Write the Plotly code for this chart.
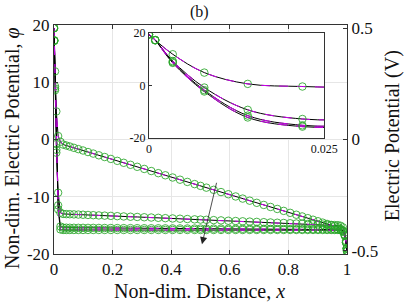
import plotly.graph_objects as go

# ---------------- data ----------------
x_mesh = [0, 0.0009, 0.0034, 0.0079, 0.0141, 0.0219, 0.031, 0.042, 0.054, 0.068,
          0.083, 0.099, 0.116, 0.134, 0.153, 0.173, 0.194, 0.216, 0.238, 0.261,
          0.284, 0.308, 0.332, 0.356, 0.380, 0.405, 0.430, 0.455, 0.480, 0.500,
          0.520, 0.545, 0.570, 0.595, 0.620, 0.644, 0.668, 0.692, 0.716, 0.739,
          0.762, 0.784, 0.806, 0.827, 0.847, 0.866, 0.884, 0.901, 0.917, 0.932,
          0.946, 0.958, 0.969, 0.9781, 0.9859, 0.9921, 0.9966, 0.9991, 1]

phi_1 = [19.46, 17.3, 11.9, 4.9, 0.6, -0.4, -0.88, -1.05, -1.23, -1.45,
         -1.68, -1.92, -2.19, -2.46, -2.76, -3.06, -3.39, -3.73, -4.07, -4.42,
         -4.77, -5.14, -5.51, -5.88, -6.25, -6.64, -7.02, -7.41, -7.79, -8.10,
         -8.41, -8.79, -9.18, -9.56, -9.95, -10.32, -10.69, -11.06, -11.43, -11.78,
         -12.13, -12.47, -12.81, -13.14, -13.44, -13.74, -14.01, -14.28, -14.52, -14.75,
         -14.97, -15.15, -15.32, -15.6, -15.9, -16.8, -18.0, -19.1, -19.46]

phi_2 = [19.46, 17.3, 9.3, -0.8, -9.3, -12.8, -13.0, -13.03, -13.05, -13.08,
         -13.11, -13.14, -13.18, -13.22, -13.26, -13.30, -13.34, -13.39, -13.44, -13.49,
         -13.53, -13.58, -13.63, -13.68, -13.74, -13.79, -13.84, -13.89, -13.95, -13.99,
         -14.03, -14.08, -14.13, -14.19, -14.24, -14.29, -14.34, -14.39, -14.44, -14.49,
         -14.54, -14.58, -14.63, -14.67, -14.72, -14.76, -14.79, -14.83, -14.86, -14.89,
         -14.92, -14.95, -14.97, -15.07, -15.35, -16.2, -17.7, -19.0, -19.46]

phi_3 = [19.46, 17.3, 8.9, -1.8, -11.5, -15.2, -15.40, -15.41, -15.42, -15.42,
         -15.43, -15.43, -15.44, -15.44, -15.45, -15.46, -15.46, -15.47, -15.48, -15.48,
         -15.49, -15.50, -15.50, -15.51, -15.52, -15.53, -15.53, -15.54, -15.55, -15.55,
         -15.56, -15.56, -15.57, -15.58, -15.59, -15.59, -15.60, -15.61, -15.61, -15.62,
         -15.63, -15.63, -15.64, -15.65, -15.65, -15.66, -15.66, -15.67, -15.67, -15.68,
         -15.68, -15.69, -15.69, -15.75, -15.95, -16.6, -17.9, -19.0, -19.46]

phi_4 = [19.46, 17.2, 8.6, -2.3, -12.2, -15.7, -15.80, -15.80, -15.80, -15.80,
         -15.80, -15.80, -15.80, -15.80, -15.80, -15.80, -15.80, -15.80, -15.80, -15.80,
         -15.80, -15.80, -15.80, -15.80, -15.80, -15.80, -15.80, -15.80, -15.80, -15.80,
         -15.80, -15.80, -15.80, -15.80, -15.80, -15.80, -15.80, -15.80, -15.80, -15.80,
         -15.80, -15.80, -15.80, -15.80, -15.80, -15.80, -15.80, -15.80, -15.80, -15.80,
         -15.80, -15.80, -15.80, -15.85, -16.05, -16.7, -18.0, -19.05, -19.46]

curves = [phi_1, phi_2, phi_3, phi_4]

x_ticks = [0, 0.2, 0.4, 0.6, 0.8, 1]
x_ticktext = ["0", "0.2", "0.4", "0.6", "0.8", "1"]
y_ticks = [-20, -10, 0, 10, 20]
y_ticktext = ["-20", "-10", "0", "10", "20"]
v_ticks = [-0.5, 0, 0.5]
v_ticktext = ["-0.5", "0", "0.5"]
inset_x_ticks = [0, 0.025]
inset_x_ticktext = ["0", "0.025"]
inset_y_ticks = [-20, 0, 20]
inset_y_ticktext = ["-20", "0", "20"]
thermal_voltage = 0.0257

# ---------------- styles ----------------
BLACK = "#000000"
MAGENTA = "#cc00ee"
GREEN = "rgba(40,165,40,0.85)"
FONT = "Liberation Serif"
TXT = "#111111"

fig = go.Figure()

for axes in [("x", "y"), ("x3", "y3")]:
    shape = "linear" if axes[0] == "x" else "spline"
    for phi in curves:
        fig.add_trace(go.Scatter(x=x_mesh, y=phi, mode="lines", xaxis=axes[0], yaxis=axes[1],
                                 line=dict(color=BLACK, width=1, shape=shape),
                                 showlegend=False, hoverinfo="skip"))
        fig.add_trace(go.Scatter(x=x_mesh, y=phi, mode="lines", xaxis=axes[0], yaxis=axes[1],
                                 line=dict(color=MAGENTA, width=1, dash="dash", shape=shape),
                                 showlegend=False, hoverinfo="skip"))
    for phi in curves:
        fig.add_trace(go.Scatter(x=x_mesh, y=phi, mode="markers", xaxis=axes[0], yaxis=axes[1],
                                 marker=dict(symbol="circle-open", size=7.5, color=GREEN,
                                             line=dict(width=1, color=GREEN)),
                                 cliponaxis=True, showlegend=False, hoverinfo="skip"))

# invisible trace for right axis
fig.add_trace(go.Scatter(x=[0], y=[0], yaxis="y2", mode="markers",
                         marker=dict(opacity=0), showlegend=False, hoverinfo="skip"))

axis_common = dict(showline=True, linecolor="#333333", linewidth=1, ticks="inside",
                   ticklen=4, tickcolor="#333333", zeroline=False, automargin=False,
                   tickfont=dict(family=FONT, size=17, color=TXT))
inset_common = dict(showline=True, mirror=True, linecolor="#333333", linewidth=1,
                    ticks="inside", ticklen=3, tickcolor="#333333", showgrid=False,
                    zeroline=False, automargin=False,
                    tickfont=dict(family=FONT, size=12, color=TXT))

fig.update_layout(
    template="none",
    width=407, height=305,
    margin=dict(l=54, r=60, t=25, b=51),
    paper_bgcolor="white", plot_bgcolor="white",
    font=dict(family=FONT, color=TXT),
    xaxis=dict(range=[0, 1], tickvals=x_ticks, ticktext=x_ticktext, mirror="ticks",
               showgrid=True, gridcolor="#e6e6e6", **axis_common),
    yaxis=dict(range=[-20, 20], tickvals=y_ticks, ticktext=y_ticktext, mirror=True,
               showgrid=True, gridcolor="#e6e6e6", **axis_common),
    yaxis2=dict(range=[-20 * thermal_voltage, 20 * thermal_voltage], overlaying="y", side="right",
                tickvals=v_ticks, ticktext=v_ticktext, showgrid=False, **axis_common),
    xaxis3=dict(domain=[0.324, 0.922], anchor="y3", range=[0, 0.025], tickvals=inset_x_ticks,
                ticktext=inset_x_ticktext, **inset_common),
    yaxis3=dict(domain=[0.507, 0.965], anchor="x3", range=[-20, 20], tickvals=inset_y_ticks,
                ticktext=inset_y_ticktext, **inset_common),
    annotations=[
        dict(text="(b)", x=0.498, y=1.057, xref="paper", yref="paper", xanchor="center",
             yanchor="middle", showarrow=False, font=dict(family=FONT, size=16, color=TXT)),
        dict(text="Non-dim. Distance, <i>x</i>", x=0.498, y=-0.162, xref="paper", yref="paper",
             xanchor="center", yanchor="middle", showarrow=False,
             font=dict(family=FONT, size=20, color=TXT)),
        dict(text="Non-dim. Electric Potential, <i>φ</i>", x=-0.14, y=0.463, xref="paper",
             yref="paper", xanchor="center", yanchor="middle", textangle=-90, showarrow=False,
             font=dict(family=FONT, size=20, color=TXT)),
        dict(text="Electric Potential (V)", x=1.154, y=0.515, xref="paper", yref="paper",
             xanchor="center", yanchor="middle", textangle=-90, showarrow=False,
             font=dict(family=FONT, size=20, color=TXT)),
        dict(x=0.505, y=-18.3, ax=0.556, ay=-7.3, xref="x", yref="y", axref="x", ayref="y",
             showarrow=True, arrowhead=2, arrowsize=1.8, arrowwidth=0.8, arrowcolor="#222222",
             text=""),
    ],
)

fig.write_html("out.html", config={"displayModeBar": False},
               post_script="document.body.style.margin='0';")
